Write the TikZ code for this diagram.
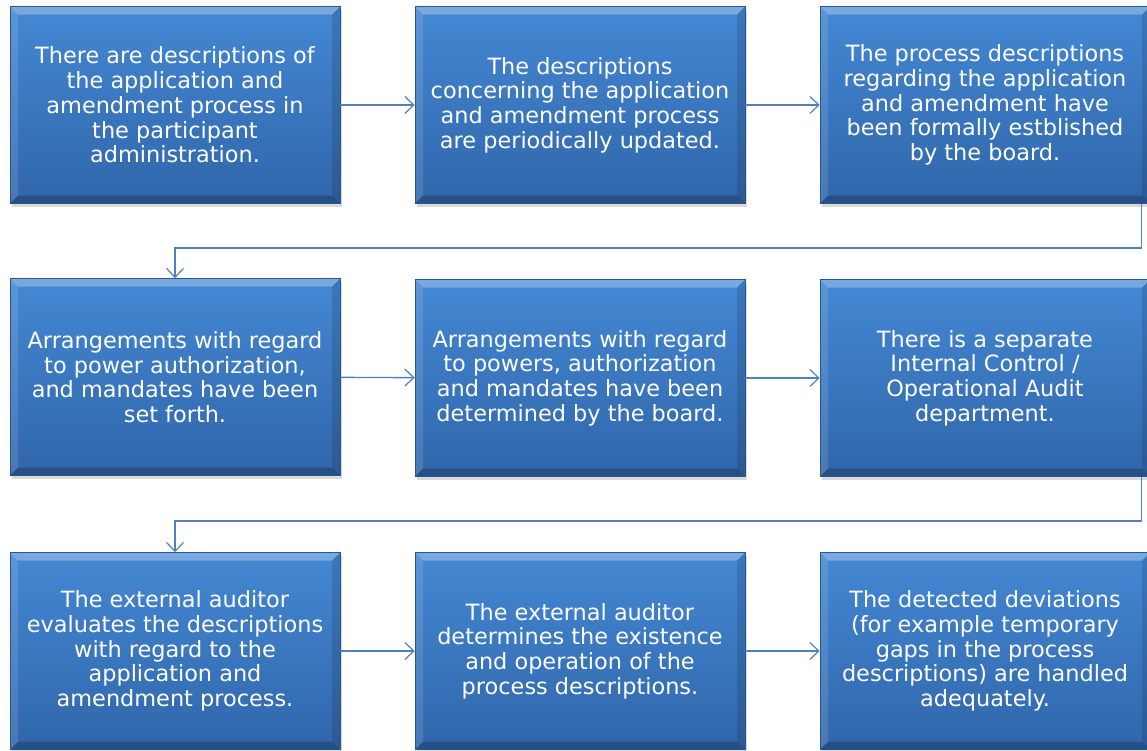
\documentclass[tikz,border=0pt]{standalone}
\usepackage{fontspec}
\setmainfont{DejaVu Sans}
\usepackage{tikz}
\usetikzlibrary{arrows.meta,positioning,calc,shadows}
\usepackage{xcolor}
\definecolor{boxtop}{RGB}{68,136,212}
\definecolor{boxbot}{RGB}{48,102,170}
\definecolor{boxedge}{RGB}{40,86,145}
\definecolor{linkblue}{RGB}{79,129,189}

\begin{document}
\begin{tikzpicture}[x=1pt,y=-1pt,
  stepbox/.style={rectangle,minimum width=330pt,minimum height=197pt,
    top color=boxtop,bottom color=boxbot,draw=boxedge,line width=0.6pt,
    text=white,align=center,inner sep=0pt,
    font=\fontsize{22.4}{24.7}\selectfont,
    drop shadow={opacity=0.3,shadow xshift=2pt,shadow yshift=-3pt},
    path picture={
      \fill[white,opacity=0.28] (path picture bounding box.north west) -- (path picture bounding box.north east)
        -- ([shift={(-8pt,-8pt)}]path picture bounding box.north east) -- ([shift={(8pt,-8pt)}]path picture bounding box.north west) -- cycle;
      \fill[white,opacity=0.12] (path picture bounding box.north west) -- ([shift={(8pt,-8pt)}]path picture bounding box.north west)
        -- ([shift={(8pt,8pt)}]path picture bounding box.south west) -- (path picture bounding box.south west) -- cycle;
      \fill[black,opacity=0.22] (path picture bounding box.south west) -- (path picture bounding box.south east)
        -- ([shift={(-8pt,8pt)}]path picture bounding box.south east) -- ([shift={(8pt,8pt)}]path picture bounding box.south west) -- cycle;
      \fill[black,opacity=0.12] (path picture bounding box.north east) -- ([shift={(-8pt,-8pt)}]path picture bounding box.north east)
        -- ([shift={(-8pt,8pt)}]path picture bounding box.south east) -- (path picture bounding box.south east) -- cycle;
    }},
  link/.style={linkblue,line width=1.4pt,-{Straight Barb[length=9pt,width=17pt,line width=1.2pt]}}]
\useasboundingbox (0,0) rectangle (1147,750);
% first row
\node[stepbox] (b1) at (175,105) {There are descriptions of\\the application and\\amendment process in\\the participant\\administration.};
\node[stepbox] (b2) at (580,105) {The descriptions\\concerning the application\\and amendment process\\are periodically updated.};
\node[stepbox] (b3) at (985,105) {The process descriptions\\regarding the application\\and amendment have\\been formally estblished\\by the board.};
% second row
\node[stepbox] (b4) at (175,377) {Arrangements with regard\\to power authorization,\\and mandates have been\\set forth.};
\node[stepbox] (b5) at (580,378) {Arrangements with regard\\to powers, authorization\\and mandates have been\\determined by the board.};
\node[stepbox] (b6) at (985,378) {There is a separate\\Internal Control /\\Operational Audit\\department.};
% third row
\node[stepbox] (b7) at (175,651) {The external auditor\\evaluates the descriptions\\with regard to the\\application and\\amendment process.};
\node[stepbox] (b8) at (580,651) {The external auditor\\determines the existence\\and operation of the\\process descriptions.};
\node[stepbox] (b9) at (985,651) {The detected deviations\\(for example temporary\\gaps in the process\\descriptions) are handled\\adequately.};
\coordinate (bend1) at (175,248);
\coordinate (bend2) at (175,521);
\draw[link] (b1) -- (b2);
\draw[link] (b2) -- (b3);
\draw[link] ([xshift=-9pt]b3.south east) |- (bend1) -- (b4.north);
\draw[link] (b4) -- (b5);
\draw[link] (b5) -- (b6);
\draw[link] ([xshift=-9pt]b6.south east) |- (bend2) -- (b7.north);
\draw[link] (b7) -- (b8);
\draw[link] (b8) -- (b9);
\end{tikzpicture}
\end{document}
